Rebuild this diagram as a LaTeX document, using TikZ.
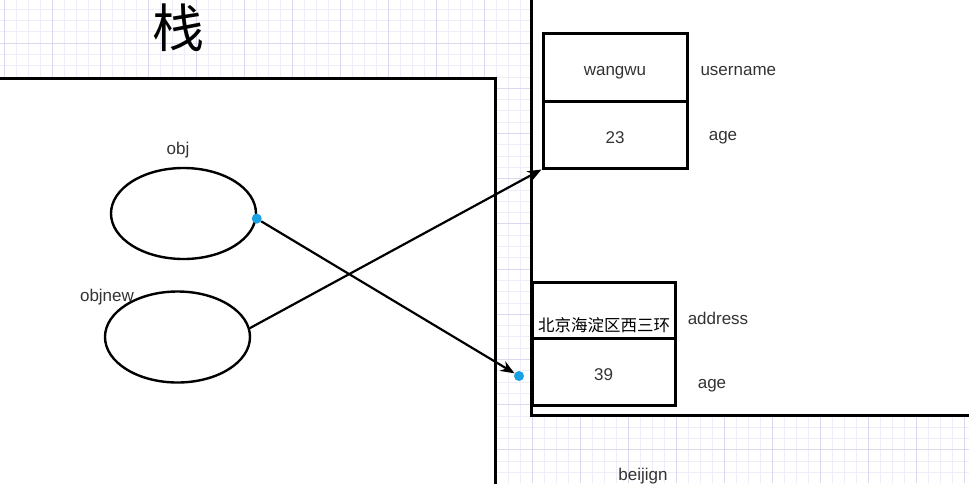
\documentclass[tikz,border=0pt]{standalone}
\usepackage{fontspec}
\setmainfont{Liberation Sans}
\newfontfamily\cjk{Noto Sans CJK SC}
\usetikzlibrary{shapes.geometric,arrows.meta}
\definecolor{gridminor}{HTML}{EEEEF8}
\definecolor{gridmajor}{HTML}{DADAEE}
\definecolor{dotblue}{HTML}{1BA1E2}
\definecolor{txt}{HTML}{333333}

\begin{document}
\begin{tikzpicture}[
        x=1pt, y=-1pt,
        every node/.style={font=\fontsize{17}{20}\selectfont, text=txt},
        frame/.style={draw, line width=3pt, fill=white},
        cell/.style={draw, line width=3pt, minimum width=144pt, inner sep=0pt, text height=17pt, text depth=0pt},
        var/.style={draw, ellipse, line width=2.4pt, minimum width=145pt, minimum height=91pt, inner sep=0pt},
        ar/.style={-{Stealth[length=14pt,width=11pt]}, line width=2.2pt},
        dot/.style={circle, fill=dotblue, inner sep=0pt, minimum size=10pt},
    ]
    \useasboundingbox (0,0) rectangle (969,483);
    \clip (0,0) rectangle (969,483);
    \fill[white] (0,0) rectangle (969,483);

    % grid
    \foreach \k in {0,...,80} \draw[gridminor, line width=0.8pt] ({4+12*\k},0) -- ({4+12*\k},483);
    \foreach \k in {-3,...,38} \draw[gridminor, line width=0.8pt] (0,{43+11.3*\k}) -- (969,{43+11.3*\k});
    \foreach \k in {0,...,20} \draw[gridmajor, line width=1pt] ({4+48*\k},0) -- ({4+48*\k},483);
    \foreach \k in {0,...,9} \draw[gridmajor, line width=1pt] (0,{43+45.2*\k}) -- (969,{43+45.2*\k});

    % stack and heap
    \draw[frame] (-10,78) rectangle (495,500);
    \draw[frame] (531,-10) rectangle (980,415);
    \node[font=\cjk\fontsize{52}{52}\selectfont, text=black] (stack) at (178,28) {栈};
    \node (city) at (643,476) {beijign};

    % variables
    \node[var] (obj) at (183.5,213.5) {};
    \node[var] (objnew) at (177.5,337) {};
    \node (objlbl) at (178,150) {obj};
    \node (objnewlbl) at (107,297) {objnew};

    % first object
    \node[cell, minimum height=68pt] (uname) at (615,67) {wangwu};
    \node[cell, minimum height=67pt] (uage) at (615,134.5) {23};
    \node[anchor=west] (unamelbl) at (697,71) {username};
    \node (uagelbl) at (723,138) {age};

    % second object
    \node[cell, minimum width=143pt, minimum height=56pt] (addr) at (603.5,310) {};
    \node[cell, minimum width=143pt, minimum height=67pt] (addrage) at (603.5,371.5) {39};
    \node[font=\cjk\fontsize{16.5}{20}\selectfont, text=black] (addrtxt) at (604,325) {北京海淀区西三环};
    \node (addrlbl) at (718,318) {address};
    \node (addragelbl) at (712,386) {age};

    % references
    \node[dot] (src) at (obj.-4) {};
    \coordinate (tgt) at (519,376);
    \node[dot] (dst) at (tgt) {};
    \draw[ar] (src) -- (dst);
    \draw[ar] (objnew.7) -- (uage.south west);
\end{tikzpicture}
\end{document}
